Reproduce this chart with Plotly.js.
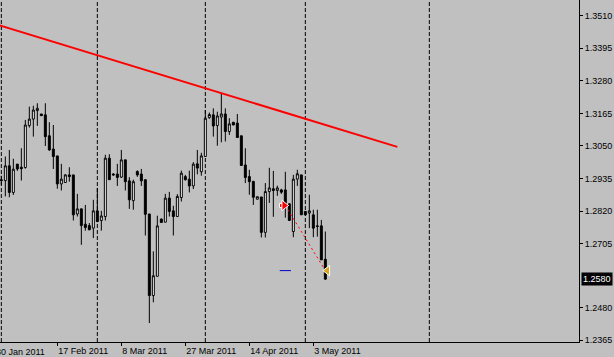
<!DOCTYPE html>
<html><head><meta charset="utf-8">
<script src="https://cdn.plot.ly/plotly-3.0.1.min.js"></script>
<style>html,body{margin:0;padding:0;background:#c0c0c0;overflow:hidden}#chart{width:614px;height:357px}</style>
</head><body><div id="chart"></div>
<script>
const dates = [
 '2011-02-01','2011-02-02','2011-02-03','2011-02-04','2011-02-06','2011-02-07','2011-02-08','2011-02-09','2011-02-10','2011-02-11',
 '2011-02-13','2011-02-14','2011-02-15','2011-02-16','2011-02-17','2011-02-18','2011-02-20','2011-02-21','2011-02-22','2011-02-23',
 '2011-02-24','2011-02-25','2011-02-27','2011-02-28',
 '2011-03-01','2011-03-02','2011-03-03','2011-03-04','2011-03-06','2011-03-07','2011-03-08','2011-03-09','2011-03-10','2011-03-11',
 '2011-03-13','2011-03-14','2011-03-15','2011-03-16','2011-03-17','2011-03-18','2011-03-20','2011-03-21','2011-03-22','2011-03-23',
 '2011-03-24','2011-03-25','2011-03-27','2011-03-28','2011-03-29','2011-03-30','2011-03-31',
 '2011-04-01','2011-04-03','2011-04-04','2011-04-05','2011-04-06','2011-04-07','2011-04-08','2011-04-10','2011-04-11','2011-04-12',
 '2011-04-13','2011-04-14','2011-04-15','2011-04-17','2011-04-18','2011-04-19','2011-04-20','2011-04-21','2011-04-22','2011-04-24',
 '2011-04-25','2011-04-26','2011-04-27','2011-04-28','2011-04-29',
 '2011-05-01','2011-05-02','2011-05-03','2011-05-04','2011-05-05','2011-05-06'
];
const openP = [
 1.2931,1.2928,1.2980,1.2886,1.2986,1.2975,1.2974,1.3122,1.3145,1.3175,
 1.3163,1.3160,1.3086,1.3039,1.3015,1.2916,1.2921,1.2948,1.2948,1.2810,
 1.2828,1.2774,1.2769,1.2760,
 1.2821,1.2787,1.2801,1.3007,1.2951,1.2951,1.2940,1.3001,1.2927,1.2857,
 1.2960,1.2951,1.2931,1.2810,1.2522,1.2590,1.2792,1.2781,1.2866,1.2821,
 1.2801,1.2868,1.2942,1.2933,1.2909,1.2987,1.2959,
 1.3013,1.3150,1.3160,1.3122,1.3152,1.3163,1.3101,1.3134,1.3131,1.3086,
 1.2983,1.2942,1.2925,1.2862,1.2870,1.2745,1.2889,1.2899,1.2893,1.2895,
 1.2895,1.2846,1.2748,1.2933,1.2948,
 1.2819,1.2813,1.2807,1.2768,1.2768,1.2650
];
const highP = [
 1.2945,1.3013,1.3036,1.3005,1.2986,1.3042,1.3142,1.3189,1.3192,1.3201,
 1.3163,1.3201,1.3134,1.3124,1.3015,1.2987,1.2950,1.2975,1.2948,1.2881,
 1.2828,1.2842,1.2778,1.2860,
 1.2902,1.2821,1.3019,1.3021,1.2954,1.2987,1.3036,1.3001,1.2940,1.2931,
 1.2964,1.2969,1.2931,1.2810,1.2678,1.2804,1.2794,1.2881,1.2888,1.2839,
 1.2880,1.2963,1.2948,1.2963,1.2993,1.3036,1.3026,
 1.3177,1.3168,1.3183,1.3171,1.3234,1.3183,1.3148,1.3134,1.3163,1.3086,
 1.3042,1.2966,1.2927,1.2871,1.2870,1.2919,1.2973,1.2962,1.2910,1.2899,
 1.2959,1.2846,1.2948,1.2966,1.2948,
 1.2819,1.2878,1.2825,1.2825,1.2789,1.2748
];
const lowP = [
 1.2913,1.2872,1.2869,1.2877,1.2962,1.2928,1.2970,1.3115,1.3083,1.3121,
 1.3157,1.3050,1.3033,1.2969,1.2899,1.2893,1.2921,1.2924,1.2787,1.2801,
 1.2701,1.2751,1.2754,1.2725,
 1.2783,1.2751,1.2787,1.2931,1.2945,1.2909,1.2937,1.2893,1.2828,1.2825,
 1.2941,1.2909,1.2734,1.2425,1.2498,1.2590,1.2778,1.2781,1.2801,1.2734,
 1.2801,1.2854,1.2928,1.2886,1.2898,1.2950,1.2945,
 1.3013,1.3146,1.3083,1.3051,1.3063,1.3066,1.3089,1.3124,1.3080,1.2981,
 1.2919,1.2878,1.2842,1.2862,1.2727,1.2727,1.2849,1.2800,1.2874,1.2881,
 1.2797,1.2787,1.2728,1.2909,1.2807,
 1.2807,1.2760,1.2728,1.2730,1.2648,1.2577
];
const closeP = [
 1.2928,1.2980,1.2886,1.2968,1.2969,1.2970,1.3124,1.3145,1.3177,1.3183,
 1.3157,1.3083,1.3036,1.3013,1.2916,1.2933,1.2948,1.2942,1.2807,1.2828,
 1.2769,1.2762,1.2754,1.2821,
 1.2783,1.2803,1.3007,1.2931,1.2948,1.2939,1.3001,1.2924,1.2860,1.2924,
 1.2948,1.2927,1.2809,1.2522,1.2592,1.2768,1.2780,1.2866,1.2819,1.2801,
 1.2872,1.2954,1.2931,1.2909,1.2986,1.2972,1.3015,
 1.3148,1.3161,1.3121,1.3156,1.3163,1.3101,1.3128,1.3124,1.3080,1.2981,
 1.2939,1.2924,1.2869,1.2871,1.2745,1.2889,1.2902,1.2893,1.2902,1.2887,
 1.2842,1.2787,1.2933,1.2952,1.2807,
 1.2807,1.2821,1.2760,1.2766,1.2648,1.2580
];
const separatorDates = ['2011-02-01','2011-03-01','2011-04-01','2011-05-01','2011-06-01'];
const tickDates = ['2011-01-30','2011-02-17','2011-03-08','2011-03-27','2011-04-14','2011-05-03'];
const tickLabels = ['30 Jan 2011','17 Feb 2011','8 Mar 2011','27 Mar 2011','14 Apr 2011','3 May 2011'];
const priceTicks = [1.3510,1.3395,1.3280,1.3165,1.3050,1.2935,1.2820,1.2705,1.2480,1.2365];
const priceTickLabels = ['1.3510','1.3395','1.3280','1.3165','1.3050','1.2935','1.2820','1.2705','1.2480','1.2365'];
const trendDates = ['2011-01-31','2011-05-24'];
const trendPrices = [1.3478, 1.3047];
const tradeDates = ['2011-04-25','2011-05-06'];
const tradePrices = [1.2840, 1.2610];
const takeProfit = 1.2610;

const DAY = 86400000;
function dateToX(d){
  const i = dates.indexOf(d);
  if (i >= 0) return i;
  const t = Date.parse(d), first = Date.parse(dates[0]), last = Date.parse(dates[dates.length-1]);
  if (t > last) return dates.length - 1 + (t - last) / DAY;
  return -(first - t) / DAY;
}
const xs = dates.map(dateToX);
const XR = [-0.333, 144.417];
const FONT = {family:"Tahoma, 'Liberation Sans', Arial, sans-serif", size:9, color:'#000'};
const tOpen = dateToX(tradeDates[0]), tClose = dateToX(tradeDates[1]);

const traces = [
  {type:'scatter', mode:'lines', x:trendDates.map(dateToX), y:trendPrices,
   line:{color:'#ff0000', width:2}, hoverinfo:'skip', showlegend:false},
  {type:'candlestick', x:xs, open:openP, high:highP, low:lowP, close:closeP,
   increasing:{line:{color:'#000', width:1}, fillcolor:'#ffffff'},
   decreasing:{line:{color:'#000', width:1}, fillcolor:'#000000'},
   whiskerwidth:0, hoverinfo:'skip', showlegend:false},
  {type:'scatter', mode:'lines', x:[tOpen, tClose], y:tradePrices,
   line:{color:'#ff0000', width:1, dash:'2px,3px'}, hoverinfo:'skip', showlegend:false},
  {type:'scatter', mode:'markers', x:[tOpen], y:[takeProfit],
   marker:{symbol:'line-ew', size:8, line:{color:'#0000c8', width:1}}, hoverinfo:'skip', showlegend:false},
  {type:'scatter', mode:'markers', x:[tOpen - 0.95], y:[tradePrices[0]],
   marker:{symbol:'square', size:4, color:'#ff0000', line:{color:'#ffffff', width:1}}, hoverinfo:'skip', showlegend:false},
  {type:'scatter', mode:'markers', x:[tOpen - 0.3], y:[tradePrices[0]],
   marker:{symbol:'triangle-right', size:9, color:'#ff0000', line:{color:'#ffffff', width:1}}, hoverinfo:'skip', showlegend:false},
  {type:'scatter', mode:'markers', x:[tClose + 0.5], y:[tradePrices[1]],
   marker:{symbol:'triangle-left', size:9, color:'#daa520', line:{color:'#ffffff', width:1}}, hoverinfo:'skip', showlegend:false}
];

const tv = tickDates.map(dateToX);
const layout = {
  width:614, height:357,
  margin:{l:0, r:35, t:0, b:15},
  paper_bgcolor:'#c0c0c0', plot_bgcolor:'#c0c0c0',
  font:FONT, showlegend:false,
  xaxis:{range:XR, showgrid:false, zeroline:false, showline:true, linecolor:'#000', linewidth:1,
         ticks:'outside', ticklen:3, tickcolor:'#000', tickvals:tv, ticktext:tickLabels,
         ticklabelposition:'outside right', tickfont:FONT, rangeslider:{visible:false}, fixedrange:true},
  yaxis:{range:[1.2358, 1.35654], side:'right', showgrid:false, zeroline:false, showline:true, linecolor:'#000', linewidth:1,
         ticks:'outside', ticklen:3, tickcolor:'#000', tickvals:priceTicks, ticktext:priceTickLabels, tickfont:FONT, fixedrange:true},
  shapes: separatorDates.map(d => ({type:'line', xref:'x', yref:'paper', x0:dateToX(d), x1:dateToX(d), y0:0, y1:1,
         layer:'below', line:{color:'#000', width:1, dash:'4px,2px'}})),
  annotations:[
    {xref:'paper', yref:'paper', x:(tv[0] - XR[0]) / (XR[1] - XR[0]), y:0, xanchor:'left', yanchor:'top', yshift:-3, xshift:1,
     text:tickLabels[0], showarrow:false, font:FONT},
    {xref:'paper', yref:'y', x:1, y:closeP[closeP.length-1], xanchor:'left', yanchor:'middle', xshift:2,
     text:closeP[closeP.length-1].toFixed(4), showarrow:false, bgcolor:'#000', borderpad:1, font:{family:FONT.family, size:9, color:'#fff'}}
  ]
};
Plotly.newPlot('chart', traces, layout, {displayModeBar:false, staticPlot:true});
</script></body></html>
